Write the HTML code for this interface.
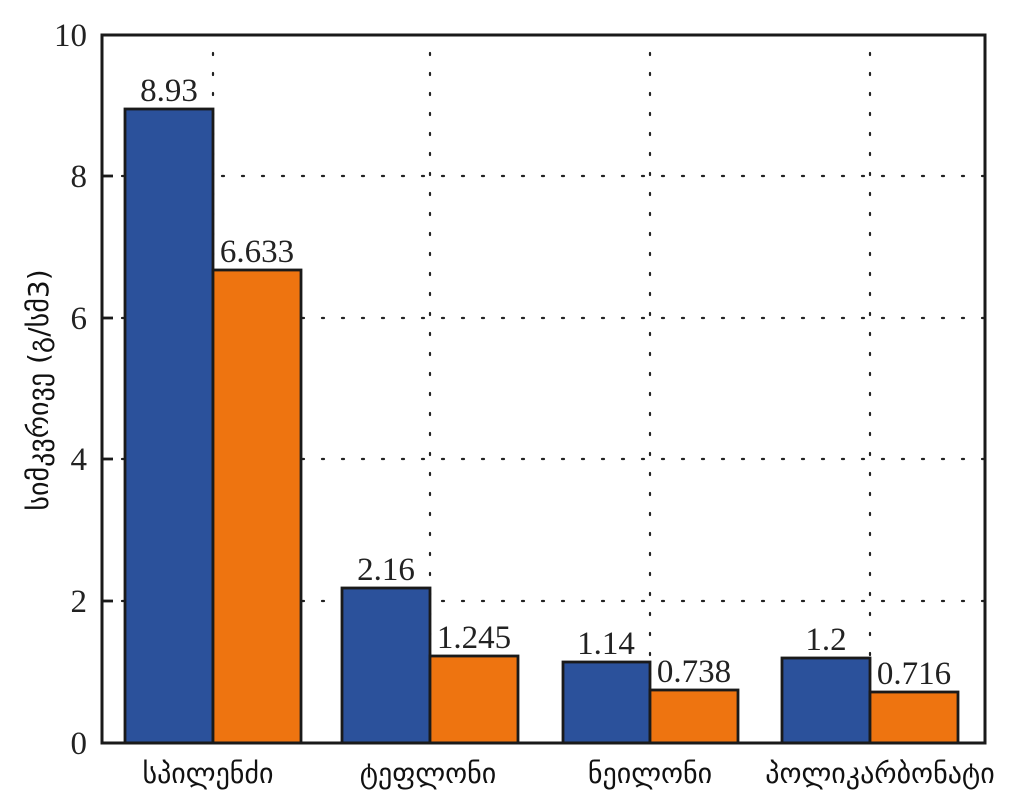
<!DOCTYPE html>
<html><head><meta charset="utf-8"><style>
html,body{margin:0;padding:0;background:#fff;}
svg{display:block;}
.n{font-family:"Liberation Serif",serif;font-size:33px;fill:#222;}
.g{font-family:"DejaVu Sans","Liberation Sans",sans-serif;font-size:28px;fill:#111;}
</style></head><body>
<svg width="1024" height="809" viewBox="0 0 1024 809">
<g stroke="#222" stroke-width="2.2" stroke-dasharray="2 18" stroke-linecap="round" fill="none">
<line x1="102" y1="601" x2="985" y2="601"/>
<line x1="102" y1="459" x2="985" y2="459"/>
<line x1="102" y1="318" x2="985" y2="318"/>
<line x1="102" y1="176" x2="985" y2="176"/>
<line x1="213" y1="53" x2="213" y2="743"/>
<line x1="430" y1="53" x2="430" y2="743"/>
<line x1="650" y1="53" x2="650" y2="743"/>
<line x1="870" y1="53" x2="870" y2="743"/>
</g>
<g stroke="#1a1a1a" stroke-width="2.8">
<rect x="125" y="109" width="88" height="634" fill="#2b519b"/>
<rect x="213" y="270" width="88" height="473" fill="#ee7410"/>
<rect x="342" y="588" width="88" height="155" fill="#2b519b"/>
<rect x="430" y="656" width="88" height="87" fill="#ee7410"/>
<rect x="563" y="662" width="87" height="81" fill="#2b519b"/>
<rect x="650" y="690" width="88" height="53" fill="#ee7410"/>
<rect x="782" y="658" width="88" height="85" fill="#2b519b"/>
<rect x="870" y="692" width="88" height="51" fill="#ee7410"/>
</g>
<rect x="102" y="35" width="883" height="708" fill="none" stroke="#1a1a1a" stroke-width="3"/>
<g stroke="#1a1a1a" stroke-width="2.8">
<line x1="102" y1="601" x2="113" y2="601"/><line x1="102" y1="459" x2="113" y2="459"/>
<line x1="102" y1="318" x2="113" y2="318"/><line x1="102" y1="176" x2="113" y2="176"/>
</g>
<g class="n" text-anchor="end">
<text x="87" y="754">0</text><text x="87" y="612">2</text><text x="87" y="470">4</text>
<text x="87" y="329">6</text><text x="87" y="187">8</text><text x="87" y="46">10</text>
</g>
<g class="n" text-anchor="middle">
<text x="169" y="101">8.93</text><text x="257" y="262">6.633</text>
<text x="386" y="580">2.16</text><text x="474" y="648">1.245</text>
<text x="606" y="654">1.14</text><text x="694" y="682">0.738</text>
<text x="826" y="650">1.2</text><text x="914" y="684">0.716</text>
</g>
<g class="g" text-anchor="middle">
<text x="208" y="783">სპილენძი</text>
<text x="428" y="783">ტეფლონი</text>
<text x="650" y="783">ნეილონი</text>
<text x="880" y="783">პოლიკარბონატი</text>
<text transform="translate(48,390) rotate(-90)">სიმკვრივე (გ/სმ3)</text>
</g>
</svg>
</body></html>
